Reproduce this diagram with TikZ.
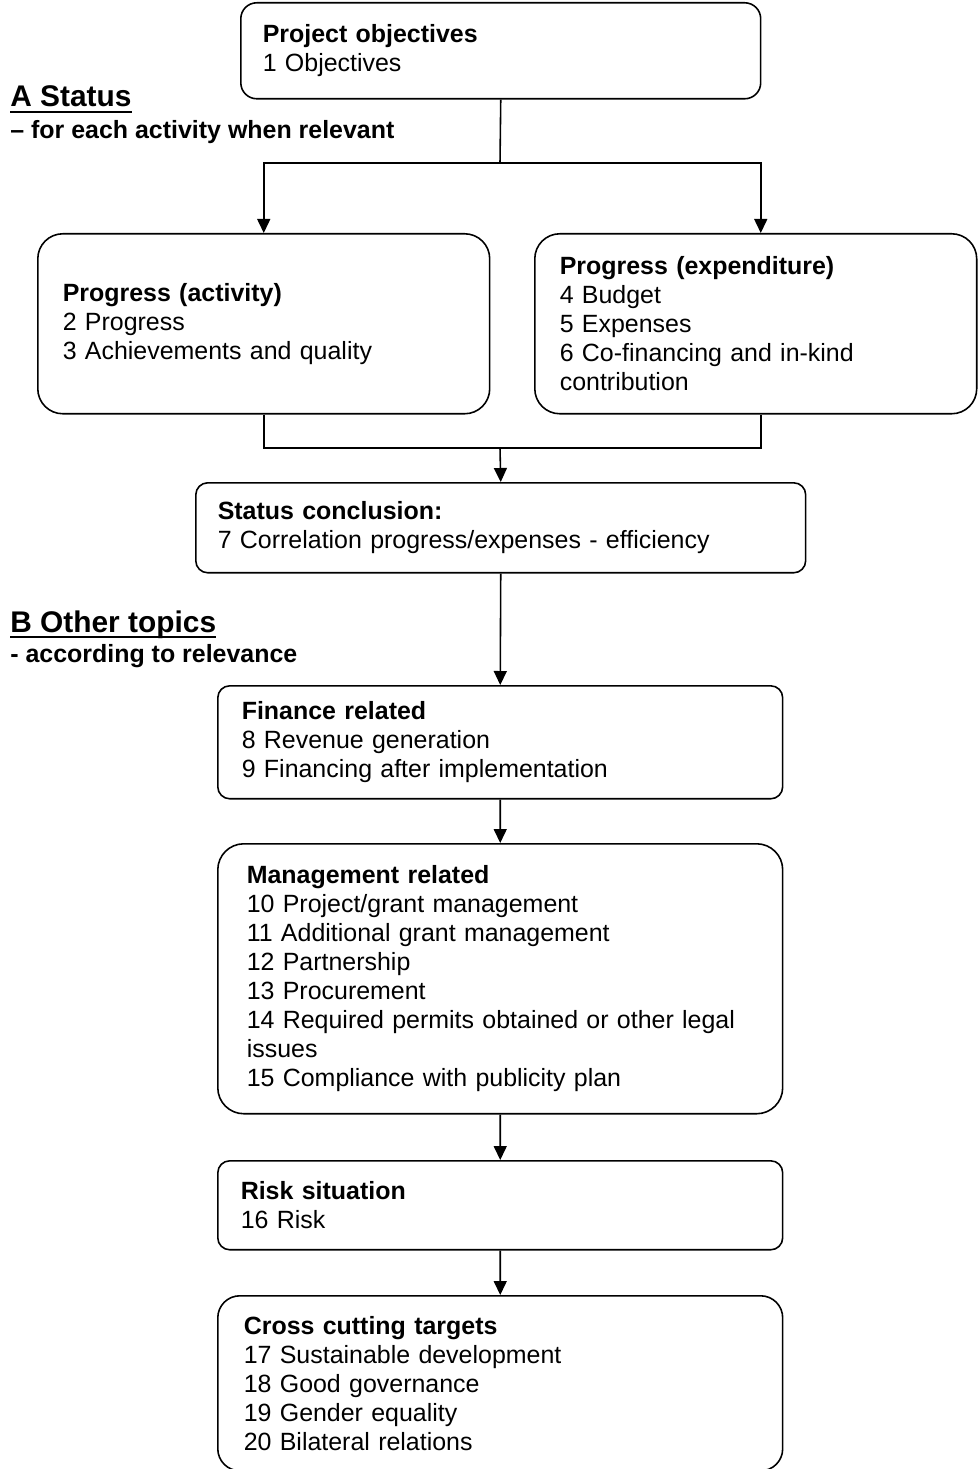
\documentclass[tikz,border=0pt]{standalone}
\usepackage{fontspec}
\setmainfont{Liberation Sans}
\usetikzlibrary{positioning, arrows.meta}
\def\flow{\draw[-{Triangle[width=0.26cm, length=0.28cm]}, line width=0.9pt]}
\newcommand{\hd}[1]{\textbf{#1}\\}
\newcommand{\uln}[1]{\setbox0\hbox{#1}\rlap{\copy0}\rule[-3.6pt]{\wd0}{1.1pt}}
\tikzset{
  box/.style={draw, line width=0.9pt, align=left, anchor=north west, inner ysep=0pt,
    font=\fontsize{14.2pt}{16.5pt}\selectfont},
  topic/.style={anchor=base west, inner sep=0pt, font=\fontsize{17pt}{20pt}\selectfont\bfseries},
  subtopic/.style={anchor=base west, inner sep=0pt, font=\fontsize{14.2pt}{16.5pt}\selectfont\bfseries}
}

\begin{document}
\begin{tikzpicture}[x=0.02cm, y=-0.02cm]
            \useasboundingbox (0,0) rectangle (977,1469);
            \node [box, rounded corners=0.32cm, minimum height=1.92cm, text width=9.52cm, inner xsep=0.44cm] (obj) at (240,2)
                  {\hd{Project objectives}1 Objectives};
            \node [box, rounded corners=0.5cm, minimum height=3.6cm, text width=8.04cm, inner xsep=0.5cm] (act) at (37,233)
                  {\hd{Progress (activity)}2 Progress\\3 Achievements and quality};
            \node [box, rounded corners=0.5cm, minimum height=3.6cm, text width=7.84cm, inner xsep=0.5cm] (expd) at (534,233)
                  {\hd{Progress (expenditure)}4 Budget\\5 Expenses\\6 Co-financing and in-kind\\contribution};
            \node [box, rounded corners=0.24cm, minimum height=1.8cm, text width=11.32cm, inner xsep=0.44cm] (concl) at (195,482)
                  {\hd{Status conclusion:}7 Correlation progress/expenses - efficiency};
            \node [box, rounded corners=0.24cm, minimum height=2.26cm, text width=10.34cm, inner xsep=0.48cm] (fin) at (217,685)
                  {\hd{Finance related}8 Revenue generation\\9 Financing after implementation};
            \node [box, rounded corners=0.52cm, minimum height=5.4cm, text width=10.14cm, inner xsep=0.58cm] (mgmt) at (217,843)
                  {\hd{Management related}10 Project/grant management\\11 Additional grant management\\12 Partnership\\13 Procurement\\14 Required permits obtained or other legal\\issues\\15 Compliance with publicity plan};
            \node [box, rounded corners=0.24cm, minimum height=1.78cm, text width=10.38cm, inner xsep=0.46cm] (risk) at (217,1160)
                  {\hd{Risk situation}16 Risk};
            \node [box, rounded corners=0.44cm, minimum height=3.5cm, text width=10.26cm, inner xsep=0.52cm] (cross) at (217,1295)
                  {\hd{Cross cutting targets}17 Sustainable development\\18 Good governance\\19 Gender equality\\20 Bilateral relations};

            \node [topic] (statA) at (10,107) {\uln{A Status}};
            \node [subtopic] (statA1) at (10,139) {– for each activity when relevant};
            \node [topic] (topB) at (10,632) {\uln{B Other topics}};
            \node [subtopic] (topB1) at (10,662) {- according to relevance};

            \coordinate (split) at (500,163);
            \coordinate (merge) at (500,448);
            \draw[line width=0.9pt] (obj.south) -- (split);
            \flow (split) -| (act.north);
            \flow (split) -| ([xshift=0.1cm]expd.north);
            \draw[line width=0.9pt] (act.south) |- (merge) -| ([xshift=0.1cm]expd.south);
            \flow (merge) -- (concl.north);
            \flow (concl.south) -- (fin.north);
            \flow (fin.south) -- (mgmt.north);
            \flow (mgmt.south) -- (risk.north);
            \flow (risk.south) -- (cross.north);
        \end{tikzpicture}
\end{document}
